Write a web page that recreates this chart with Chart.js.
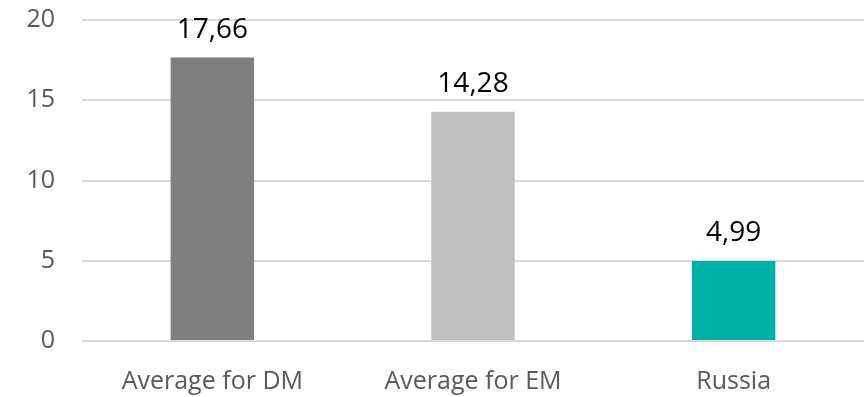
<!DOCTYPE html>
<html>
<head>
<meta charset="utf-8">
<script src="https://cdn.jsdelivr.net/npm/chart.js@4/dist/chart.umd.min.js"></script>
<style>
  html, body { margin: 0; padding: 0; background: #fff; }
  #wrap { width: 864px; height: 397px; }
</style>
</head>
<body>
<div id="wrap"><canvas id="grafico"></canvas></div>
<script>
var categorias = ['Average for DM', 'Average for EM', 'Russia'];
var valores = [17.66, 14.28, 4.99];
var colores = ['#7f7f7f', '#bfbfbf', '#00b1a9'];

// etiquetas de valor encima de cada barra (coma decimal)
var etiquetasValor = {
    id: 'etiquetasValor',
    afterDatasetsDraw: function (chart) {
        var ctx = chart.ctx;
        var meta = chart.getDatasetMeta(0);
        ctx.save();
        ctx.font = '28px "Open Sans"';
        ctx.fillStyle = '#000';
        ctx.textAlign = 'center';
        ctx.textBaseline = 'alphabetic';
        meta.data.forEach(function (barra, i) {
            var texto = valores[i].toFixed(2).replace('.', ',');
            ctx.fillText(texto, barra.x, barra.y - 20);
        });
        ctx.restore();
    }
};

var ctx = document.getElementById('grafico');
new Chart(ctx, {
    type: 'bar',
    data: {
        labels: categorias,
        datasets: [{
            data: valores,
            backgroundColor: colores,
            barPercentage: 0.32,
            categoryPercentage: 1
        }]
    },
    options: {
        responsive: true,
        maintainAspectRatio: false,
        animation: false,
        layout: { padding: { top: 20, right: 0, bottom: 0, left: 0 } },
        plugins: {
            legend: { display: false },
            tooltip: { enabled: false }
        },
        scales: {
            x: {
                grid: { display: false, drawTicks: false },
                border: { display: false },
                ticks: {
                    color: '#595959',
                    font: { family: 'Open Sans', size: 25 },
                    padding: 26
                },
                afterFit: function (scale) {
                    scale.height = 56;
                    scale.paddingLeft = 0;
                    scale.paddingRight = 0;
                }
            },
            y: {
                min: 0,
                max: 20,
                grid: { color: '#d9d9d9', lineWidth: 2, drawTicks: false },
                border: { display: false },
                ticks: {
                    stepSize: 5,
                    color: '#595959',
                    font: { family: 'Open Sans', size: 25 },
                    padding: 27
                },
                afterFit: function (scale) {
                    scale.width = 82;
                    scale.paddingTop = 0;
                    scale.paddingBottom = 0;
                }
            }
        }
    },
    plugins: [etiquetasValor]
});
</script>
</body>
</html>
